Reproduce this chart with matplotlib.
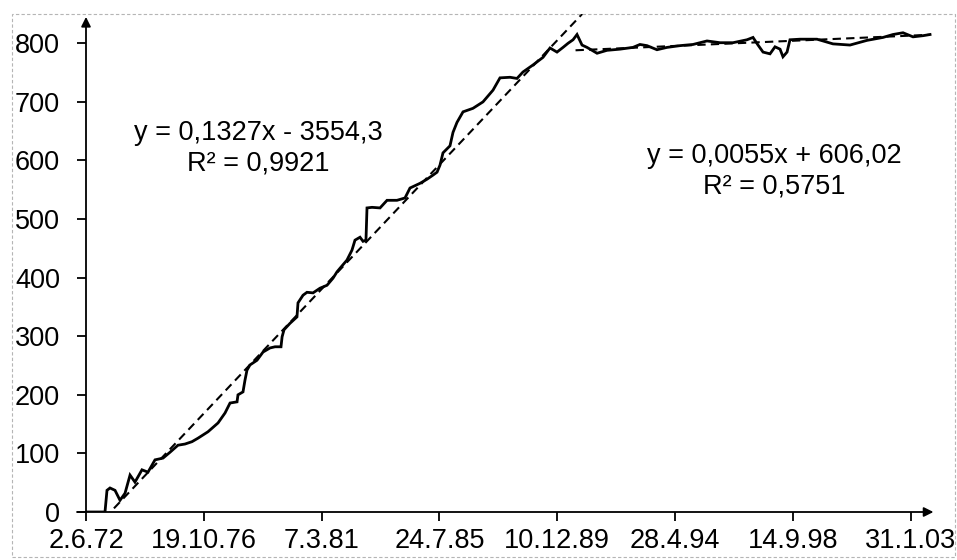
import matplotlib
matplotlib.use("Agg")
import matplotlib.pyplot as plt
from matplotlib.patches import Rectangle
import numpy as np

plt.rcParams['font.family'] = ['Liberation Sans', 'DejaVu Sans']

# x values are Excel date serials (days since 1899-12-30)
dates = [26452, 26710, 26737, 26778, 26846, 26914, 26982, 27050, 27117, 27212,
         27294, 27389, 27498, 27593, 27701, 27796, 27891, 27973, 28109, 28245,
         28340, 28408, 28503, 28516, 28584, 28611, 28638, 28679, 28774, 28856,
         28951, 29019, 29100, 29115, 29141, 29222, 29317, 29331, 29399, 29453,
         29535, 29630, 29725, 29806, 29861, 29901, 29996, 30064, 30105, 30173,
         30214, 30254, 30268, 30336, 30445, 30540, 30675, 30784, 30852, 30988,
         31083, 31164, 31219, 31259, 31300, 31395, 31436, 31490, 31572, 31707,
         31843, 31979, 32074, 32210, 32305, 32386, 32522, 32658, 32753, 32848,
         32930, 32998, 33066, 33120, 33188, 33256, 33392, 33527, 33704, 33880,
         33975, 34070, 34206, 34342, 34519, 34695, 34885, 35062, 35238, 35428,
         35510, 35578, 35646, 35741, 35809, 35877, 35917, 35972, 36012, 36148,
         36379, 36596, 36827, 37058, 37275, 37411, 37547, 37683, 37819, 37914]
values = [0, 0, 37, 41, 37, 20, 32, 63, 51, 72,
          68, 89, 92, 102, 114, 116, 120, 126, 137, 152,
          169, 186, 188, 200, 205, 225, 242, 251, 259, 273,
          280, 282, 282, 299, 311, 322, 333, 357, 370, 375,
          374, 382, 387, 399, 410, 416, 430, 447, 464, 469,
          462, 464, 519, 520, 519, 532, 532, 536, 553, 561,
          568, 575, 580, 592, 613, 625, 648, 665, 683, 689,
          700, 720, 741, 742, 740, 751, 763, 776, 792, 785,
          793, 800, 806, 815, 797, 793, 783, 788, 790, 793,
          798, 796, 789, 793, 796, 798, 804, 801, 801, 806,
          810, 797, 785, 782, 794, 790, 777, 785, 806, 807,
          807, 799, 797, 805, 810, 815, 818, 811, 813, 815]

# trendlines (Excel)
trend1_slope, trend1_icpt = 0.1327, -3554.3
trend2_slope, trend2_icpt = 0.0055, 606.02
trend1_range = [26452, 33300]
trend2_range = [33100, 37914]

tick_dates = [26452, 28052, 29652, 31252, 32852, 34452, 36052, 37652]
tick_labels = ["2.6.72", "19.10.76", "7.3.81", "24.7.85", "10.12.89",
               "28.4.94", "14.9.98", "31.1.03"]
y_ticks = [0, 100, 200, 300, 400, 500, 600, 700, 800]

eq1 = "y = 0,1327x - 3554,3\nR² = 0,9921"
eq2 = "y = 0,0055x + 606,02\nR² = 0,5751"

W, H = 957, 560
fig = plt.figure(figsize=(W / 100, H / 100), dpi=100)
ax = fig.add_axes([86 / W, 48 / H, (956 - 86) / W, (512 - 14) / H])
x0, x1 = 26452, 26452 + 870 * 13.58
ax.set_xlim(x0, x1)
ax.set_ylim(0, 850)
for s in ax.spines.values():
    s.set_visible(False)
ax.patch.set_alpha(0)

# trendlines
tx1 = np.array(trend1_range, dtype=float)
ax.plot(tx1, trend1_slope * tx1 + trend1_icpt, color='black', lw=1.5,
        linestyle=(0, (4, 2.5)), zorder=2)
tx2 = np.array(trend2_range, dtype=float)
ax.plot(tx2, trend2_slope * tx2 + trend2_icpt, color='black', lw=1.5,
        linestyle=(0, (4, 2.5)), zorder=2)

# data
ax.plot(dates, values, color='black', lw=2.0, solid_joinstyle='miter', zorder=3)

# axes with arrows
ax.annotate('', xy=(37960, 0), xytext=(x0 - 9 * 13.58, 0),
            arrowprops=dict(arrowstyle='-|>', color='black', lw=1.3,
                            mutation_scale=14, shrinkA=0, shrinkB=0),
            annotation_clip=False, zorder=4)
ax.annotate('', xy=(x0, 845), xytext=(x0, 0),
            arrowprops=dict(arrowstyle='-|>', color='black', lw=1.3,
                            mutation_scale=14, shrinkA=0, shrinkB=0),
            annotation_clip=False, zorder=4)

ax.set_xticks(tick_dates)
ax.set_xticklabels(tick_labels)
ax.set_yticks(y_ticks)
ax.tick_params(axis='both', direction='out', length=6.8, width=1.3,
               labelsize=19.5, colors='black')
ax.tick_params(axis='y', pad=12)
ax.tick_params(axis='x', pad=5)

ax.text((258 - 86) * 13.58 + x0, (512 - 148) * 1.7065, eq1, ha='center',
        va='center', fontsize=19.5, linespacing=1.2)
ax.text((774 - 86) * 13.58 + x0, (512 - 171) * 1.7065, eq2, ha='center',
        va='center', fontsize=19.5, linespacing=1.2)

fig.patches.append(Rectangle((12 / W, 3 / H), (955 - 12) / W, (557 - 14) / H,
                             transform=fig.transFigure, fill=False,
                             edgecolor='#b5b5b5', lw=0.8,
                             linestyle=(0, (3, 2)), zorder=0))

fig.savefig('out.png', dpi=100)
